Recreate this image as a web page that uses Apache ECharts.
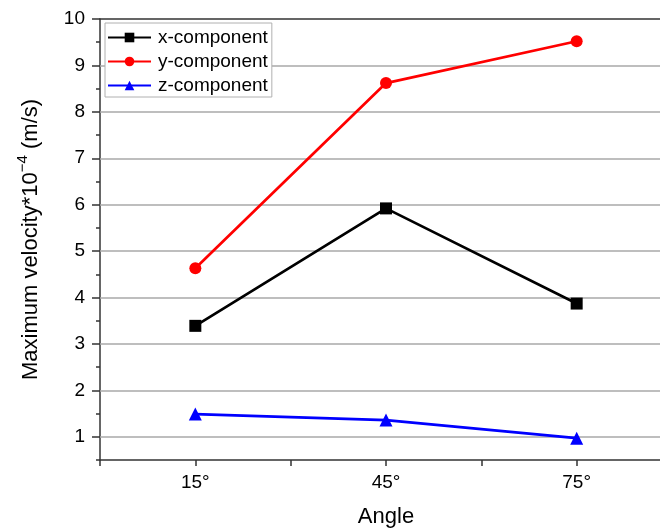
<!DOCTYPE html>
<html>
<head>
<meta charset="utf-8">
<script src="https://cdn.jsdelivr.net/npm/echarts@6/dist/echarts.min.js"></script>
<style>
html,body{margin:0;padding:0;background:#fff;}
#c{width:660px;height:532px;}
</style>
</head>
<body>
<div id="c"></div>
<script>
const angles = [15, 45, 75];
const xTickLabels = ['15°', '45°', '75°'];
const xComponent = [3.39, 5.92, 3.87];
const yComponent = [4.63, 8.62, 9.52];
const zComponent = [1.49, 1.36, 0.97];
const seriesNames = ['x-component', 'y-component', 'z-component'];
const yTickValues = [1, 2, 3, 4, 5, 6, 7, 8, 9, 10];
const yMinorTickValues = [0.5, 1.5, 2.5, 3.5, 4.5, 5.5, 6.5, 7.5, 8.5, 9.5];
const yGridValues = [1, 2, 3, 4, 5, 6, 7, 8, 9];

function pairs(vals) { return angles.map((a, i) => [a, vals[i]]); }

const chart = echarts.init(document.getElementById('c'), null, {renderer: 'canvas'});
const font = 'Liberation Sans, Arial, sans-serif';
const axisCol = '#333';
chart.setOption({
  animation: false,
  backgroundColor: '#fff',
  textStyle: {fontFamily: font},
  grid: {left: 100, top: 19, right: -12, bottom: 72, outerBoundsMode: 'none', containLabel: false},
  legend: {
    orient: 'vertical', left: 105, top: 23,
    itemWidth: 43, itemHeight: 12, itemGap: 5,
    padding: [5, 4, 2, 2],
    borderColor: '#b0b0b0', borderWidth: 1, backgroundColor: '#fff',
    textStyle: {fontSize: 19, color: '#000', fontFamily: font, padding: [0, 0, 0, 2]},
    data: seriesNames
  },
  xAxis: [{
    type: 'value', min: 0, max: 90, interval: 15,
    name: 'Angle', nameLocation: 'middle', nameGap: 46,
    nameTextStyle: {fontSize: 22, color: '#000', fontFamily: font},
    axisLine: {show: true, lineStyle: {color: axisCol, width: 1.5}},
    axisTick: {show: true, inside: false, length: 6, lineStyle: {color: axisCol, width: 1.5}},
    axisLabel: {
      color: '#000', fontSize: 19, margin: 13, fontFamily: font,
      formatter: function (v) { const i = angles.indexOf(v); return i >= 0 ? xTickLabels[i] : ''; }
    },
    splitLine: {show: false}
  }, {
    type: 'value', position: 'top', min: 0, max: 90,
    axisLine: {show: true, onZero: false, lineStyle: {color: axisCol, width: 1.5}},
    axisTick: {show: false}, axisLabel: {show: false}, splitLine: {show: false}
  }],
  yAxis: [{
    type: 'value', min: 0.5, max: 10,
    name: '{a|Maximum velocity*10}{s|−4}{a| (m/s)}', nameLocation: 'middle', nameGap: 58, nameRotate: 90,
    nameTextStyle: {
      color: '#000', fontFamily: font,
      rich: {
        a: {fontSize: 22, color: '#000', fontFamily: font, lineHeight: 27, verticalAlign: 'bottom'},
        s: {fontSize: 15, color: '#000', fontFamily: font, lineHeight: 27, verticalAlign: 'top'}
      }
    },
    axisLine: {show: true, onZero: false, lineStyle: {color: axisCol, width: 1.5}},
    axisTick: {show: true, inside: false, length: 8, customValues: yTickValues, lineStyle: {color: axisCol, width: 1.5}},
    axisLabel: {
      color: '#000', fontSize: 19, margin: 15, fontFamily: font, customValues: yTickValues
    },
    splitLine: {show: false}
  }, {
    type: 'value', min: 0.5, max: 10, position: 'left',
    axisLine: {show: false},
    axisTick: {show: true, inside: false, length: 4, customValues: yMinorTickValues, lineStyle: {color: axisCol, width: 1.5}},
    axisLabel: {show: false},
    splitLine: {show: false}
  }],
  series: [
    {name: 'grid', type: 'line', data: [], z: 1, silent: true,
     markLine: {silent: true, z: 1, symbol: 'none', label: {show: false}, animation: false,
       lineStyle: {color: '#a8a8a8', width: 1.5, type: 'solid'},
       emphasis: {disabled: true},
       data: yGridValues.map(v => ({yAxis: v}))}},
    {name: seriesNames[0], type: 'line', z: 3, data: pairs(xComponent), symbol: 'rect', symbolSize: 12,
     lineStyle: {color: '#000', width: 2.7}, itemStyle: {color: '#000'}},
    {name: seriesNames[1], type: 'line', z: 3, data: pairs(yComponent), symbol: 'circle', symbolSize: 12,
     lineStyle: {color: '#ff0000', width: 2.7}, itemStyle: {color: '#ff0000'}},
    {name: seriesNames[2], type: 'line', z: 3, data: pairs(zComponent), symbol: 'triangle', symbolSize: 13,
     lineStyle: {color: '#0000ff', width: 2.7}, itemStyle: {color: '#0000ff'}}
  ]
});
</script>
</body>
</html>
